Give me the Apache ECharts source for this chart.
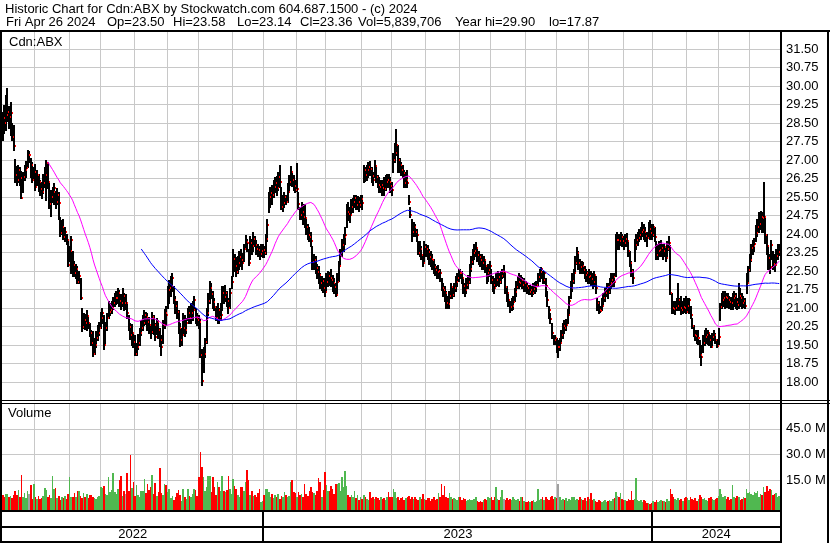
<!DOCTYPE html>
<html><head><meta charset="utf-8">
<script src="https://cdn.jsdelivr.net/npm/echarts@6/dist/echarts.min.js"></script>
<style>html,body{margin:0;padding:0;background:#fff}#c{width:830px;height:543px}</style>
</head><body><div id="c"></div>
<script>
// ---- DATA (daily, 2 May 2022 .. 26 Apr 2024) ----
const closes = [
28.69,28.51,28.82,28.96,28.75,28.89,27.95,27.57,26.39,26.20,
26.60,26.26,25.47,26.30,26.59,26.66,27.20,27.20,26.80,26.19,
26.53,25.92,26.39,26.10,25.81,25.70,26.05,26.40,26.89,26.10,
25.22,25.51,25.70,25.85,25.31,25.60,25.24,24.03,24.30,23.89,
24.10,23.76,22.74,23.30,23.76,22.74,22.41,22.60,22.07,22.30,
21.39,20.24,20.51,20.41,20.68,20.40,19.97,19.60,19.14,19.50,
19.80,20.00,20.20,20.60,20.78,19.50,20.20,20.60,20.85,20.90,
20.99,21.20,21.39,21.40,21.59,21.30,21.22,21.50,21.22,21.22,
20.80,20.22,19.90,19.97,19.64,19.14,19.40,19.59,19.97,20.18,
20.40,20.72,20.65,20.45,20.30,20.04,20.64,20.30,19.84,20.45,
20.10,19.70,19.43,20.30,20.78,20.70,21.73,21.80,21.90,22.20,
21.32,21.10,20.85,20.20,19.70,19.90,20.18,20.10,20.40,20.78,
20.60,20.78,20.90,21.32,20.58,20.51,20.45,19.10,18.05,19.14,
19.64,20.78,21.30,21.80,21.55,21.26,21.05,20.58,20.90,20.62,
20.70,21.59,21.45,21.59,21.30,20.99,21.60,22.07,23.00,22.70,
22.47,22.84,23.05,22.95,22.81,23.40,23.69,23.62,22.81,23.62,
23.50,23.78,23.55,23.40,23.35,23.20,23.30,23.35,23.24,23.80,
24.36,25.49,25.65,25.58,25.90,26.05,25.85,26.30,26.12,25.11,
25.24,25.50,25.31,25.72,26.10,26.53,26.19,25.95,25.78,25.81,
25.20,24.77,24.90,24.70,24.63,24.30,23.96,23.89,23.70,22.88,
22.95,22.61,22.45,22.34,22.00,22.10,21.80,21.66,22.07,22.30,
22.20,22.14,22.00,21.86,21.53,22.04,22.70,23.22,23.55,23.89,
23.95,24.91,24.80,24.77,25.11,25.30,25.45,25.18,25.30,25.18,
25.40,25.24,26.59,26.40,26.59,26.70,26.62,26.35,26.19,26.76,
26.30,25.99,25.92,26.00,25.85,25.81,26.10,26.19,26.12,25.95,
25.78,27.00,27.30,27.61,27.00,26.80,26.59,26.46,26.05,26.20,
26.08,25.31,24.77,24.09,24.30,24.09,23.96,23.22,23.40,23.15,
22.81,23.49,23.40,23.28,23.08,23.00,22.95,22.68,22.55,22.47,
22.50,22.41,21.80,21.73,21.60,21.22,21.15,21.50,21.86,21.53,
21.80,22.07,22.20,22.43,22.41,22.20,21.90,21.73,21.95,22.07,
22.60,22.88,23.22,23.30,23.42,23.15,23.05,22.95,22.81,22.95,
22.70,22.41,22.55,22.71,22.14,21.95,21.80,22.14,22.25,22.07,
22.30,22.47,22.47,21.86,21.60,21.32,21.05,21.10,21.26,21.66,
21.85,22.07,22.00,22.14,21.93,22.00,21.90,21.80,21.66,21.75,
21.59,21.76,21.85,21.93,22.27,22.45,22.57,22.14,22.41,21.90,
21.32,20.92,20.54,20.00,19.70,19.77,19.43,19.43,19.57,19.91,
20.27,20.20,20.31,20.72,21.30,21.80,22.10,22.41,22.84,23.22,
22.81,22.68,22.70,22.54,22.34,22.40,22.27,22.30,22.16,22.07,
22.34,21.80,21.19,20.92,20.89,21.10,21.39,21.59,21.86,21.66,
22.00,22.14,22.25,22.07,23.76,23.76,23.73,23.89,23.70,23.62,
23.78,23.70,23.30,22.84,22.50,22.20,23.55,23.76,23.85,23.96,
24.10,24.16,24.09,23.90,23.82,24.20,24.03,23.96,24.30,23.86,
23.15,23.30,23.35,23.42,23.30,23.49,23.01,23.40,23.65,21.59,
20.99,20.96,20.99,21.10,21.32,20.99,20.92,21.05,20.99,20.85,
21.10,21.32,20.72,20.27,19.91,19.85,19.77,19.80,19.10,19.03,
19.60,19.84,19.91,19.97,19.70,19.43,19.84,19.91,19.70,19.46,
19.82,21.05,21.32,21.40,21.46,21.39,21.32,21.25,21.22,21.39,
21.50,21.26,21.12,21.50,21.39,21.19,21.30,21.08,22.00,22.54,
22.95,23.42,23.50,23.59,24.03,24.30,24.40,24.68,24.63,24.70,
23.96,23.50,23.01,22.68,23.55,22.78,22.74,23.10,23.28,23.36];
const highs = [
28.95,29.23,29.64,29.90,29.20,29.35,28.50,28.40,27.05,26.75,
26.80,26.70,26.55,26.50,26.80,26.95,27.41,27.35,27.10,26.90,
26.70,26.85,26.60,26.45,26.20,26.10,26.45,26.70,27.00,26.90,
26.15,25.80,25.90,26.05,25.75,25.85,25.70,24.70,24.55,24.60,
24.30,24.00,23.70,23.50,23.90,23.30,22.90,22.80,22.70,22.50,
22.20,21.00,20.80,20.75,20.90,20.70,20.40,20.10,20.05,19.80,
20.05,20.30,20.45,20.85,21.00,20.70,20.45,20.80,21.30,21.20,
21.30,21.45,21.60,21.70,21.80,21.75,21.55,21.80,21.60,21.55,
21.20,20.70,20.40,20.35,20.00,19.90,19.60,19.95,20.20,20.50,
20.70,20.90,20.85,20.80,20.65,20.35,20.85,20.70,20.40,20.60,
20.50,20.20,19.90,20.50,20.95,21.10,21.90,22.15,22.30,22.40,
21.90,21.50,21.30,20.90,20.40,20.20,20.80,20.70,20.60,21.00,
21.10,21.20,21.30,21.50,21.00,20.80,20.70,20.55,19.35,19.40,
19.80,21.00,21.60,22.10,22.00,21.70,21.40,21.10,21.20,21.00,
21.20,21.90,21.90,21.95,21.70,21.40,21.80,22.30,23.40,23.20,
23.05,23.10,23.30,23.40,23.25,23.60,23.95,23.80,23.40,23.90,
23.80,24.10,23.90,23.75,23.60,23.50,23.60,23.60,23.50,24.00,
24.60,25.70,25.90,26.00,26.20,26.30,26.35,26.50,26.80,25.90,
25.60,25.70,25.60,26.05,26.40,26.75,26.50,26.40,26.20,26.86,
25.70,25.10,25.30,25.20,25.20,24.60,24.40,24.30,24.10,23.50,
23.20,23.10,22.80,22.70,22.40,22.30,22.20,22.20,22.40,22.50,
22.45,22.60,22.35,22.20,22.00,22.40,22.90,23.40,23.80,24.00,
24.30,25.20,25.30,25.10,25.40,25.45,25.60,25.60,25.55,25.50,
25.60,25.60,26.80,26.70,26.80,26.90,26.95,26.70,26.50,27.00,
26.70,26.40,26.30,26.20,26.20,26.30,26.40,26.45,26.45,26.30,
26.10,27.30,27.70,28.25,27.60,27.10,26.90,26.80,26.60,26.50,
26.60,25.60,25.10,24.60,24.50,24.40,24.20,23.70,23.70,23.50,
23.20,23.70,23.60,23.55,23.40,23.30,23.20,23.00,22.80,22.70,
22.75,22.60,22.20,22.00,21.90,21.70,21.50,21.70,22.00,21.90,
22.00,22.30,22.40,22.60,22.60,22.50,22.20,22.00,22.20,22.35,
22.80,23.10,23.40,23.60,23.69,23.40,23.30,23.20,23.20,23.10,
23.00,22.70,22.80,22.90,22.60,22.30,22.20,22.40,22.50,22.40,
22.50,22.60,22.74,22.40,21.90,21.60,21.30,21.40,21.50,21.80,
22.10,22.30,22.40,22.35,22.25,22.20,22.10,22.00,21.95,21.95,
21.90,22.00,22.05,22.10,22.40,22.60,22.68,22.50,22.50,22.20,
21.70,21.10,20.80,20.40,19.90,19.90,19.80,19.70,19.80,20.10,
20.40,20.50,20.55,20.95,21.50,22.10,22.40,22.60,23.10,23.49,
23.30,23.00,22.90,22.85,22.70,22.60,22.50,22.60,22.50,22.40,
22.50,22.30,21.40,21.30,21.10,21.40,21.60,21.80,22.00,22.00,
22.20,22.40,22.40,22.40,24.00,24.10,24.00,24.10,24.00,23.90,
24.00,24.05,23.70,23.30,22.90,22.60,23.80,24.00,24.10,24.20,
24.30,24.50,24.40,24.30,24.10,24.50,24.55,24.40,24.40,24.30,
23.70,23.60,23.70,23.75,23.60,23.60,23.50,23.70,23.90,23.55,
21.60,21.30,21.30,21.40,22.00,21.40,21.50,21.30,21.40,21.50,
21.40,21.40,21.10,20.60,20.30,20.10,20.10,20.10,19.70,19.50,
19.90,20.10,20.20,20.10,20.00,19.90,20.00,20.10,20.00,19.75,
20.20,21.20,21.60,21.70,21.70,21.60,21.60,21.50,21.45,21.60,
21.70,21.60,21.40,22.00,21.80,21.60,21.50,21.40,22.40,22.70,
23.20,23.60,23.75,23.85,24.35,24.60,24.90,24.95,24.90,26.12,
24.70,24.00,23.50,23.20,23.75,23.30,23.20,23.40,23.60,23.58];
const lows = [
27.81,28.10,28.20,28.60,28.30,28.00,27.80,27.40,26.10,26.00,
26.10,26.00,25.45,25.70,26.20,26.30,26.70,26.90,26.30,26.10,
26.20,25.80,26.00,25.75,25.60,25.45,25.65,25.90,25.38,25.85,
25.05,24.75,25.30,25.20,25.05,25.20,24.60,23.90,24.00,23.80,
23.70,23.60,22.70,22.90,22.40,22.30,22.30,22.20,22.00,22.00,
21.35,20.05,20.20,20.15,20.10,20.20,19.85,19.50,19.05,19.15,
19.40,19.70,19.90,20.20,20.40,19.35,19.60,20.10,20.60,20.70,
20.80,20.95,21.10,21.15,21.20,21.10,20.95,21.10,20.90,20.95,
20.60,20.10,19.75,19.50,19.40,19.08,19.10,19.35,19.50,19.90,
20.10,20.30,20.35,20.10,20.00,19.80,20.00,19.95,19.70,19.95,
19.80,19.45,19.10,19.60,20.20,20.30,21.00,21.20,21.50,21.70,
21.20,20.80,20.60,20.00,19.45,19.50,19.90,19.85,20.00,20.50,
20.40,20.40,20.50,20.90,20.40,20.30,20.20,19.00,17.87,18.40,
19.00,19.60,20.70,21.20,21.40,21.00,20.90,20.50,20.40,20.40,
20.50,20.90,21.20,21.30,21.10,20.80,21.00,21.80,22.30,22.50,
22.30,22.40,22.60,22.70,22.60,22.90,23.40,23.30,22.75,23.00,
23.20,23.30,23.50,23.20,23.10,23.00,23.10,23.05,23.05,23.20,
23.70,24.90,25.10,25.20,25.50,25.70,25.60,25.80,25.90,25.00,
24.95,25.10,25.20,25.30,25.80,26.00,25.95,25.80,25.70,25.75,
25.00,24.60,24.60,24.40,24.30,24.00,23.80,23.70,23.50,22.60,
22.60,22.40,22.20,22.00,21.80,21.75,21.65,21.50,21.70,21.90,
21.95,21.90,21.70,21.60,21.50,21.60,22.10,22.70,23.10,23.30,
23.60,24.30,24.55,24.50,24.80,24.90,25.10,25.00,25.00,24.95,
25.10,25.00,26.10,26.15,26.20,26.30,26.40,26.10,26.00,26.30,
26.10,25.90,25.70,25.70,25.60,25.60,25.80,25.90,25.90,25.70,
25.60,26.50,26.90,27.20,26.50,26.50,26.40,26.30,25.90,25.90,
25.90,25.20,24.70,23.70,23.90,23.90,23.70,23.20,23.10,23.00,
22.70,22.90,23.10,23.00,22.80,22.70,22.60,22.40,22.35,22.20,
22.20,22.10,21.75,21.50,21.30,21.00,20.98,21.00,21.40,21.40,
21.50,21.70,21.90,22.10,22.20,22.00,21.60,21.50,21.60,21.80,
22.00,22.50,22.80,23.00,23.10,22.90,22.80,22.70,22.60,22.60,
22.45,22.00,22.10,22.30,22.00,21.70,21.60,21.90,21.95,21.90,
22.00,22.20,22.25,21.60,21.30,21.10,20.85,20.90,20.95,21.30,
21.50,21.80,21.80,21.90,21.80,21.70,21.70,21.60,21.55,21.55,
21.50,21.55,21.60,21.70,21.90,22.10,22.20,22.00,22.00,21.50,
21.10,20.60,20.40,19.80,19.55,19.55,19.20,19.00,19.30,19.60,
19.80,20.00,20.10,20.40,20.80,21.40,21.70,22.00,22.40,22.80,
22.60,22.40,22.40,22.40,22.20,22.10,22.00,22.00,21.95,21.80,
21.90,21.60,20.90,20.80,20.85,20.90,21.10,21.30,21.50,21.40,
21.60,21.80,21.90,21.90,22.30,23.40,23.40,23.55,23.50,23.40,
23.50,23.50,23.10,22.70,22.30,22.00,22.90,23.40,23.55,23.70,
23.80,23.90,23.80,23.70,23.50,23.90,23.80,23.80,23.90,23.70,
23.00,23.00,23.10,23.10,23.00,23.10,22.90,23.10,23.35,21.55,
20.80,20.80,20.75,20.90,20.90,20.90,20.75,20.80,20.85,20.80,
20.90,20.80,20.60,20.20,19.85,19.70,19.60,19.55,19.00,18.69,
19.20,19.50,19.60,19.55,19.50,19.40,19.50,19.70,19.60,19.40,
19.55,20.50,21.00,21.10,21.00,21.05,21.05,21.00,20.95,20.95,
21.10,21.00,20.95,21.00,21.10,21.00,21.05,20.98,21.60,22.10,
22.50,22.90,23.20,23.30,23.70,23.90,24.10,24.20,24.10,24.10,
23.62,23.20,22.60,22.40,23.00,22.60,22.50,22.80,23.00,23.14];
// volume in millions of shares
const volumes = [
6.5,5.0,6.8,7.2,5.5,6.0,4.8,6.3,9.0,6.2,
9.2,5.5,18.0,5.0,7.5,4.5,9.0,6.8,12.0,4.0,
13.0,5.0,4.2,6.0,3.8,4.5,5.8,10.2,9.5,5.0,
6.2,4.8,17.5,10.0,10.2,4.8,6.0,3.5,5.5,4.8,
6.0,3.8,7.2,17.0,5.0,5.5,7.8,5.2,8.5,9.0,
6.0,4.5,7.8,5.5,7.0,4.8,6.2,6.5,5.0,4.8,
3.8,5.5,6.0,11.0,10.2,11.8,7.0,6.5,17.0,8.0,
9.5,19.0,8.0,7.0,10.0,15.0,17.5,6.0,8.5,7.0,
19.0,9.0,30.0,10.5,14.0,6.0,12.0,6.5,5.0,8.5,
9.0,16.0,7.5,13.0,9.5,11.0,18.0,7.0,13.6,6.0,
8.0,22.0,7.5,6.5,13.0,12.5,8.0,10.0,4.5,6.0,
3.5,5.0,7.5,9.5,6.5,3.0,10.0,5.5,4.0,10.0,
6.0,5.5,7.0,10.0,9.5,6.0,17.0,31.6,23.0,17.0,
9.0,11.0,17.5,17.5,8.0,17.0,11.0,6.5,14.0,11.0,
9.0,17.5,9.0,8.0,9.5,17.5,10.0,7.0,16.0,11.5,
10.0,6.5,5.5,11.0,11.0,9.0,14.0,21.0,15.0,6.5,
9.0,6.0,6.5,5.5,7.5,10.0,2.5,3.0,6.5,10.0,
10.0,8.0,5.5,7.0,4.5,6.5,5.0,7.0,4.2,6.0,
5.0,8.0,6.5,5.5,6.0,14.0,15.0,8.0,7.5,5.5,
8.0,6.5,7.0,5.5,13.0,7.0,6.0,9.0,11.0,8.0,
7.5,6.5,9.0,16.5,14.0,5.0,9.5,20.0,12.0,9.0,
8.5,11.7,10.0,7.0,13.0,13.0,13.6,9.0,17.0,11.0,
20.6,11.7,6.4,5.0,6.4,5.5,9.0,4.5,6.4,3.5,
5.0,4.0,6.4,5.5,4.0,3.5,8.4,4.5,5.5,3.8,
5.0,4.5,3.5,5.5,4.0,4.8,3.5,5.0,8.0,5.0,
5.0,10.0,8.0,4.5,5.5,3.5,4.8,5.0,3.5,4.5,
5.0,6.0,4.0,5.0,3.8,5.5,4.0,3.5,5.0,4.2,
7.0,4.0,3.5,4.5,4.5,3.0,4.0,5.5,3.5,4.0,
7.4,5.0,12.9,6.5,11.7,5.0,4.5,7.5,5.5,4.0,
4.5,4.0,3.5,5.0,5.0,3.5,4.5,4.0,3.0,3.5,
4.0,3.5,3.5,4.0,5.0,3.0,2.5,3.0,2.2,3.5,
4.0,3.5,5.0,4.5,5.0,3.5,5.5,11.0,4.0,3.5,
5.5,9.4,4.0,3.5,4.5,3.5,4.0,3.5,5.0,4.0,
3.5,4.0,3.0,5.0,5.0,3.0,2.5,2.5,3.0,2.5,
3.0,3.5,2.5,3.0,10.0,3.5,4.0,5.5,3.5,5.5,
4.0,3.5,5.5,6.0,4.0,5.5,4.5,13.0,5.0,3.5,
4.0,3.5,4.5,3.0,4.0,3.5,5.0,5.5,3.5,4.0,
3.5,5.0,4.0,3.5,4.5,3.0,5.0,4.0,7.8,3.5,
4.0,3.0,2.5,3.5,3.0,2.5,3.0,3.5,2.5,3.0,
3.5,3.0,4.0,4.5,8.0,6.0,5.0,7.5,4.0,3.5,
3.5,3.0,4.0,3.5,9.0,3.5,4.0,16.4,3.5,3.0,
3.5,2.5,3.5,3.0,1.5,2.0,1.2,1.8,3.0,2.5,
3.5,2.5,3.0,3.5,2.8,3.0,2.5,4.0,3.0,9.7,
7.0,5.5,4.0,3.5,4.5,3.5,4.0,3.0,4.5,5.0,
4.5,3.5,5.5,4.0,3.5,4.5,3.0,4.0,6.4,5.0,
4.0,4.5,3.5,3.0,4.5,5.0,4.0,3.5,4.0,4.5,
6.0,10.0,7.0,5.5,6.0,4.0,5.0,3.5,4.0,12.3,
5.0,4.5,6.0,5.5,3.5,4.0,5.0,4.5,10.0,7.5,
8.0,7.0,6.5,8.0,7.5,8.5,5.5,7.0,6.5,11.0,
8.0,11.7,9.0,10.0,9.5,6.5,7.0,7.4,5.0,5.84];
// first trading day of each month (index into the daily arrays)
const monthStarts = [21,43,63,85,106,126,148,168,189,208,231,250,272,294,314,336,356,377,399,418,440,460,480];
// year segments: label, first index, last index
const years = [['2022',0,167],['2023',168,417],['2024',418,499]];
const lastDate = 'Fri Apr 26 2024';
const lastOpen = 23.50;
const lastVolume = 5839706;
const maFast = 30, maSlow = 90;
const priceMin = 17.25, priceMax = 32.25, priceStep = 0.75;
const volMax = 60, volStep = 15;

// ---- CHART ----
const FONT = '"Liberation Sans", Arial, sans-serif';
const FS = '13px ';
const GRID = '#c8c8c8', RED = '#ff0000', GREEN = '#50b850', GREYV = '#a0a0a0';
const N = closes.length;
const cats = closes.map((_, i) => i);
const monthSet = new Set(monthStarts);
function sma(arr, n) {
  return arr.map((_, i) => {
    if (i < n - 1) return null;
    let s = 0; for (let k = i - n + 1; k <= i; k++) s += arr[k];
    return s / n;
  });
}
const volColors = closes.map((c, i) => i === 0 ? RED : (c > closes[i-1] ? GREEN : (c < closes[i-1] ? RED : GREYV)));
const fmt = n => n.toLocaleString('en-US');
const yearHi = Math.max(...highs), yearLo = Math.min(...lows);

const chart = echarts.init(document.getElementById('c'), null, {renderer: 'canvas'});
const xCommon = (g, split) => ({
  type: 'category', gridIndex: g, data: cats, boundaryGap: true,
  axisLine: {show: false}, axisTick: {show: false}, axisLabel: {show: false},
  splitLine: {show: split, interval: (i) => monthSet.has(i), lineStyle: {color: GRID, width: 1}}
});
const txt = (x, y, t) => ({type: 'text', x: x, y: y, silent: true, z: 100,
  style: {text: t, font: FS + FONT, fill: '#000', verticalAlign: 'middle'}});
const box = (x, y, w, h) => ({type: 'rect', silent: true, shape: {x: x, y: y, width: w, height: h}, style: {fill: '#000'}, z: 100});

chart.setOption({
  animation: false,
  backgroundColor: '#fff',
  grid: [
    {left: 2, right: 50, top: 30.5, height: 370},
    {left: 2, right: 50, top: 403, height: 103},
    {left: 2, right: 50, top: 512, height: 29}
  ],
  xAxis: [xCommon(0, true), xCommon(1, true), Object.assign(xCommon(2, false), {show: false})],
  yAxis: [
    {type: 'value', gridIndex: 0, position: 'right', min: priceMin, max: priceMax, interval: priceStep,
     axisLine: {show: false}, axisTick: {show: false},
     axisLabel: {margin: 6, color: '#000', fontSize: 13, fontFamily: FONT,
       formatter: v => (v < 17.9 || v > 31.6) ? '' : v.toFixed(2)},
     splitLine: {lineStyle: {color: GRID, width: 1}}},
    {type: 'value', gridIndex: 1, position: 'right', min: 0, max: volMax, interval: volStep,
     axisLine: {show: false}, axisTick: {show: false},
     axisLabel: {margin: 6, color: '#000', fontSize: 13, fontFamily: FONT,
       formatter: v => (v <= 0 || v >= volMax) ? '' : v.toFixed(1) + ' M'},
     splitLine: {lineStyle: {color: GRID, width: 1}}},
    {type: 'value', gridIndex: 2, min: 0, max: 1, show: false}
  ],
  series: [
    {type: 'custom', xAxisIndex: 0, yAxisIndex: 0, z: 2, silent: true,
     data: closes.map((c, i) => [i, highs[i], lows[i], c]),
     encode: {x: 0, y: [1, 2, 3]},
     renderItem: (params, api) => {
       const i = api.value(0);
       const t = api.coord([i, api.value(1)]), b = api.coord([i, api.value(2)]);
       const x = Math.round(t[0]) - 1;
       const y0 = Math.round(t[1]), y1 = Math.round(b[1]);
       return {type: 'rect', shape: {x: x, y: y0, width: 2, height: Math.max(1, y1 - y0 + 1)}, style: {fill: '#000'}};
     }},
    {type: 'custom', xAxisIndex: 0, yAxisIndex: 0, z: 3, silent: true,
     data: closes.map((c, i) => [i, c]),
     encode: {x: 0, y: 1},
     renderItem: (params, api) => {
       const p = api.coord([api.value(0), api.value(1)]);
       const x = Math.round(p[0]) + 1;
       return {type: 'rect', shape: {x: x, y: Math.round(p[1]) - 1, width: 1, height: 2}, style: {fill: RED}};
     }},
    {type: 'line', xAxisIndex: 0, yAxisIndex: 0, z: 4, silent: true, data: sma(closes, maFast),
     showSymbol: false, symbol: 'none', lineStyle: {color: '#ff00ff', width: 1}},
    {type: 'line', xAxisIndex: 0, yAxisIndex: 0, z: 4, silent: true, data: sma(closes, maSlow),
     showSymbol: false, symbol: 'none', lineStyle: {color: '#0000ff', width: 1}},
    {type: 'custom', xAxisIndex: 1, yAxisIndex: 1, z: 2, silent: true,
     data: volumes.map((v, i) => [i, v]),
     encode: {x: 0, y: 1},
     renderItem: (params, api) => {
       const i = api.value(0);
       const bw = api.size([1, 0])[0];
       const p = api.coord([i, api.value(1)]);
       const x0 = Math.round(p[0] - bw / 2), x1 = Math.round(p[0] + bw / 2);
       const cs = params.coordSys;
       const yb = cs.y + cs.height + 4;
       const yt = Math.round(p[1]);
       return {type: 'rect', shape: {x: x0, y: yt, width: Math.max(1, x1 - x0), height: yb - yt},
               style: {fill: volColors[params.dataIndex]}};
     }},
    {type: 'custom', xAxisIndex: 2, yAxisIndex: 2, z: 5, silent: true,
     data: years.map(y => [y[1], y[2]]),
     encode: {x: [0, 1]},
     renderItem: (params, api) => {
       const yr = years[params.dataIndex];
       const cs = params.coordSys;
       const bw = api.size([1, 0])[0];
       const xs = api.coord([yr[1], 0])[0] - bw / 2;
       const xe = api.coord([yr[2], 0])[0] + bw / 2;
       const x0 = Math.max(cs.x, xs), x1 = Math.min(cs.x + cs.width, xe);
       const ch = [{type: 'text', style: {text: yr[0], x: (x0 + x1) / 2, y: cs.y + 22.5, align: 'center',
                    verticalAlign: 'middle', font: FS + FONT, fill: '#000'}}];
       if (yr[1] > 0) ch.push({type: 'rect', shape: {x: Math.round(xs) - 1, y: cs.y, width: 2, height: cs.height},
                               style: {fill: '#000'}});
       return {type: 'group', children: ch};
     }}
  ],
  graphic: [
    box(0, 30, 830, 2),
    box(0, 30, 2, 513),
    box(0, 400, 830, 1),
    box(0, 403, 830, 1),
    box(780, 30, 2, 513),
    box(827, 30, 2, 513),
    box(0, 510, 782, 2),
    box(0, 526, 782, 2),
    box(0, 541, 782, 2),
    txt(5, 9, 'Historic Chart for Cdn:ABX by Stockwatch.com 604.687.1500 - (c) 2024'),
    txt(6, 22, lastDate),
    txt(107, 22, 'Op=' + lastOpen.toFixed(2)),
    txt(173, 22, 'Hi=' + highs[N-1].toFixed(2)),
    txt(237, 22, 'Lo=' + lows[N-1].toFixed(2)),
    txt(300, 22, 'Cl=' + closes[N-1].toFixed(2)),
    txt(358, 22, 'Vol=' + fmt(lastVolume)),
    txt(455, 22, 'Year hi=' + yearHi.toFixed(2)),
    txt(549, 22, 'lo=' + yearLo.toFixed(2)),
    txt(9, 42, 'Cdn:ABX'),
    txt(8, 413, 'Volume')
  ]
});
</script>
</body></html>
